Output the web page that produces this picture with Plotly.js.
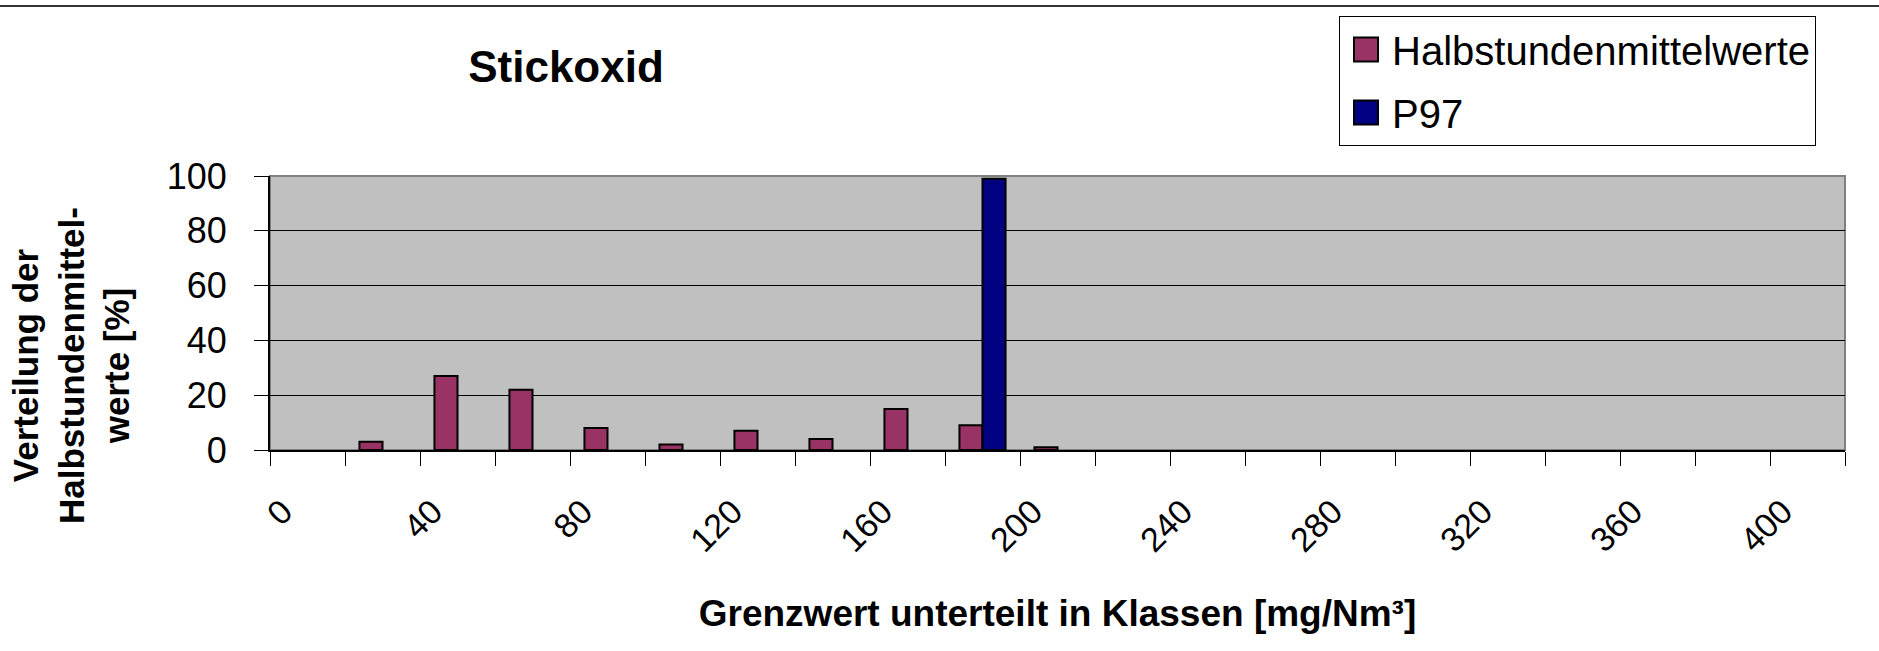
<!DOCTYPE html>
<html>
<head>
<meta charset="utf-8">
<script src="https://cdn.plot.ly/plotly-3.0.1.min.js"></script>
<style>
html,body{margin:0;padding:0;background:#fff;}
#chart{width:1879px;height:651px;}
</style>
</head>
<body>
<div id="chart"></div>
<script>
// Klassen (Grenzwert unterteilt in Klassen, mg/Nm³)
var categories = ["0","20","40","60","80","100","120","140","160","180","200","220","240","260","280","300","320","340","360","380","400"];
// Verteilung der Halbstundenmittelwerte [%]
var halbstundenValues = [0, 3, 27, 22, 8, 2, 7, 4, 15, 9, 1, 0, 0, 0, 0, 0, 0, 0, 0, 0, 0];
// P97
var p97Values = [0, 0, 0, 0, 0, 0, 0, 0, 0, 99, 0, 0, 0, 0, 0, 0, 0, 0, 0, 0, 0];
// shown tick labels (every second class)
var tickLabels = ["0","","40","","80","","120","","160","","200","","240","","280","","320","","360","","400"];
var yTickValues = [0, 20, 40, 60, 80, 100];

var FONT = "Arial, 'Liberation Sans', sans-serif";

// empty classes are not drawn (no outline on the axis), as in the original
function visible(v){ return v === 0 ? null : v; }

var traces = [
  {
    type: "bar", name: "Halbstundenmittelwerte",
    x: categories, y: halbstundenValues.map(visible),
    marker: {color: "#993366", line: {color: "#000000", width: 2}},
    legendgroup: "a", hoverinfo: "x+y"
  },
  {
    type: "bar", name: "P97",
    x: categories, y: p97Values.map(visible),
    marker: {color: "#000080", line: {color: "#000000", width: 2}},
    legendgroup: "b", hoverinfo: "x+y"
  }
];

var L = 270, R = 34, T = 176, B = 201, W = 1879, H = 651;
var plotW = W - L - R, plotH = H - T - B;
function px2x(p){ return (p - L) / plotW; }
function px2y(p){ return (H - B - p) / plotH; }

var layout = {
  width: W, height: H,
  margin: {l: L, r: R, t: T, b: B, pad: 0},
  paper_bgcolor: "#ffffff",
  plot_bgcolor: "#C0C0C0",
  font: {family: FONT, color: "#000000"},
  barmode: "group",
  bargap: 0.385,
  bargroupgap: 0,
  title: {
    text: "<b>Stickoxid</b>",
    font: {family: FONT, size: 44, color: "#000000"},
    xref: "container", x: 566 / W, xanchor: "center",
    yref: "container", y: 1 - 67 / H, yanchor: "middle"
  },
  xaxis: {
    type: "category",
    tickmode: "array",
    tickvals: categories,
    ticktext: tickLabels,
    tickson: "boundaries",
    ticks: "outside", ticklen: 14, tickwidth: 1, tickcolor: "#000000",
    tickangle: -45,
    ticklabelstandoff: 26,
    ticklabelshift: -25,
    tickfont: {family: FONT, size: 34, color: "#000000"},
    showgrid: false,
    showline: true, linecolor: "#000000", linewidth: 2,
    zeroline: false,
    automargin: false,
    title: {
      text: "<b>Grenzwert unterteilt in Klassen [mg/Nm³]</b>",
      font: {family: FONT, size: 37, color: "#000000"},
      standoff: 42
    }
  },
  yaxis: {
    range: [0, 100],
    tickmode: "array",
    tickvals: yTickValues,
    ticks: "outside", ticklen: 14, tickwidth: 1, tickcolor: "#000000",
    ticklabelstandoff: 20,
    tickfont: {family: FONT, size: 36, color: "#000000"},
    showgrid: true, gridcolor: "#000000", gridwidth: 1,
    showline: true, linecolor: "#000000", linewidth: 2,
    zeroline: false,
    automargin: false
  },
  showlegend: true,
  legend: {
    x: px2x(1339), y: px2y(16), xanchor: "left", yanchor: "top",
    xref: "paper", yref: "paper",
    bgcolor: "#ffffff", bordercolor: "#000000", borderwidth: 1,
    font: {family: FONT, size: 40, color: "#000000"},
    itemwidth: 42,
    traceorder: "grouped", tracegroupgap: 8
  },
  annotations: [
    {
      text: "<b>Verteilung der<br>Halbstundenmittel-<br>werte [%]</b>",
      xref: "paper", yref: "paper",
      x: px2x(71), y: px2y(366),
      xanchor: "center", yanchor: "middle",
      textangle: -90, showarrow: false,
      font: {family: FONT, size: 35, color: "#000000"}
    }
  ],
  shapes: [
    {
      type: "rect", xref: "paper", yref: "paper",
      x0: 0, x1: 1, y0: 0, y1: 1,
      line: {color: "#808080", width: 2}, layer: "below"
    },
    {
      type: "line", xref: "paper", yref: "paper",
      x0: px2x(0), x1: px2x(W), y0: px2y(6), y1: px2y(6),
      line: {color: "#333333", width: 2}
    }
  ]
};

Plotly.newPlot("chart", traces, layout, {displayModeBar: false, staticPlot: true}).then(function(gd){
  // larger legend keys, like the original chart
  var paths = gd.querySelectorAll(".legend .legendpoints path");
  for (var i = 0; i < paths.length; i++) {
    paths[i].setAttribute("d", "M12,12H-12V-12H12Z");
    paths[i].style.strokeWidth = "2px";
  }
});
</script>
</body>
</html>
